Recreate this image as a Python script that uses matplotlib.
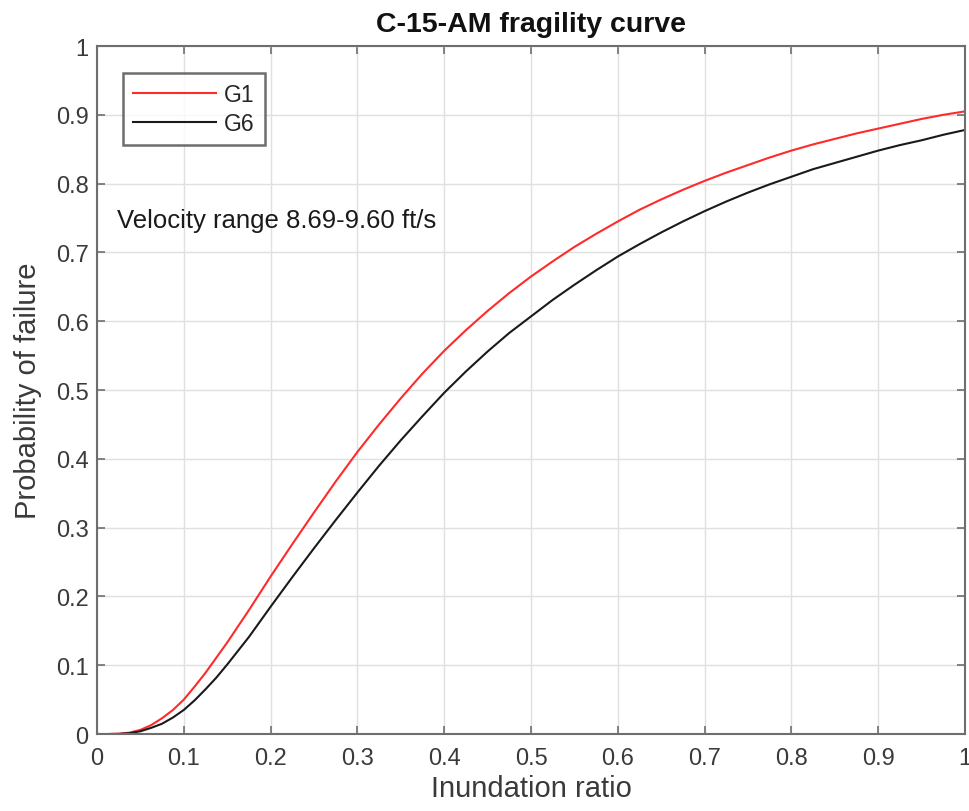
import matplotlib
matplotlib.use("Agg")
import matplotlib.pyplot as plt

plt.rcParams['font.family'] = ['Liberation Sans', 'DejaVu Sans']

inundation_ratio = [0.0, 0.0125, 0.025, 0.0375, 0.05, 0.0625, 0.075, 0.0875, 0.1, 0.1125,
                    0.125, 0.1375, 0.15, 0.175, 0.2, 0.225,
                    0.25, 0.275, 0.3, 0.325, 0.35, 0.375, 0.4, 0.425, 0.45, 0.475,
                    0.5, 0.525, 0.55, 0.575, 0.6, 0.625, 0.65, 0.675, 0.7, 0.725,
                    0.75, 0.775, 0.8, 0.825, 0.85, 0.875, 0.9, 0.925, 0.95, 0.975, 1.0]

g1_prob = [0.0, 0.0, 0.0004, 0.002, 0.006, 0.013, 0.023, 0.035, 0.050, 0.069,
           0.089, 0.111, 0.133, 0.180, 0.229, 0.276,
           0.322, 0.367, 0.410, 0.450, 0.488, 0.524, 0.557, 0.587, 0.615, 0.641,
           0.665, 0.687, 0.708, 0.727, 0.745, 0.762, 0.777, 0.791, 0.804, 0.816,
           0.827, 0.838, 0.848, 0.857, 0.865, 0.873, 0.880, 0.887, 0.894, 0.900, 0.905]

g6_prob = [0.0, 0.0, 0.0002, 0.0012, 0.004, 0.009, 0.015, 0.024, 0.035, 0.049,
           0.065, 0.082, 0.101, 0.141, 0.185, 0.228,
           0.270, 0.311, 0.351, 0.390, 0.427, 0.462, 0.496, 0.527, 0.556, 0.583,
           0.607, 0.631, 0.653, 0.674, 0.694, 0.712, 0.729, 0.745, 0.760, 0.774,
           0.787, 0.799, 0.810, 0.821, 0.830, 0.839, 0.848, 0.856, 0.863, 0.871, 0.878]

tick_vals = [0, 0.1, 0.2, 0.3, 0.4, 0.5, 0.6, 0.7, 0.8, 0.9, 1]
tick_labels = ['0', '0.1', '0.2', '0.3', '0.4', '0.5', '0.6', '0.7', '0.8', '0.9', '1']

fig = plt.figure(figsize=(9.69, 8.12), dpi=100)
ax = fig.add_axes([0.1001, 0.0948, 0.8958, 0.8473])

ax.plot(inundation_ratio, g1_prob, color='#ff2a2a', lw=1.5, label='G1')
ax.plot(inundation_ratio, g6_prob, color='#1a1a1a', lw=1.5, label='G6')

ax.set_xlim(0, 1)
ax.set_ylim(0, 1)
ax.set_xticks(tick_vals)
ax.set_xticklabels(tick_labels)
ax.set_yticks(tick_vals)
ax.set_yticklabels(tick_labels)
ax.grid(True, color='#e0e0e0', lw=1.0)
ax.set_axisbelow(True)

for s in ax.spines.values():
    s.set_color('#6e6e6e')
    s.set_linewidth(1.5)
ax.tick_params(direction='in', length=6, width=1.2, color='#6e6e6e',
               top=True, right=True, labelsize=17, labelcolor='#3a3a3a')
ax.tick_params(axis='x', pad=9)
ax.tick_params(axis='y', pad=6)

ax.set_xlabel('Inundation ratio', fontsize=21, color='#3a3a3a', labelpad=4)
ax.set_ylabel('Probability of failure', fontsize=21, color='#3a3a3a', labelpad=10)
ax.set_title('C-15-AM fragility curve', fontsize=20.5, fontweight='bold', color='#111111', pad=11)

ax.text(0.023, 0.737, 'Velocity range 8.69-9.60 ft/s', fontsize=18.5, color='#1a1a1a',
        va='baseline', ha='left')

leg = ax.legend(loc='upper left', bbox_to_anchor=(0.030, 0.961), fontsize=16.5,
                frameon=True, fancybox=False, handlelength=3.6, borderpad=0.45,
                labelspacing=0.25, handletextpad=0.35, borderaxespad=0)
leg.get_frame().set_edgecolor('#4a4a4a')
leg.get_frame().set_linewidth(1.8)
for t in leg.get_texts():
    t.set_color('#262626')

fig.savefig('out.png', dpi=100, facecolor='white')
